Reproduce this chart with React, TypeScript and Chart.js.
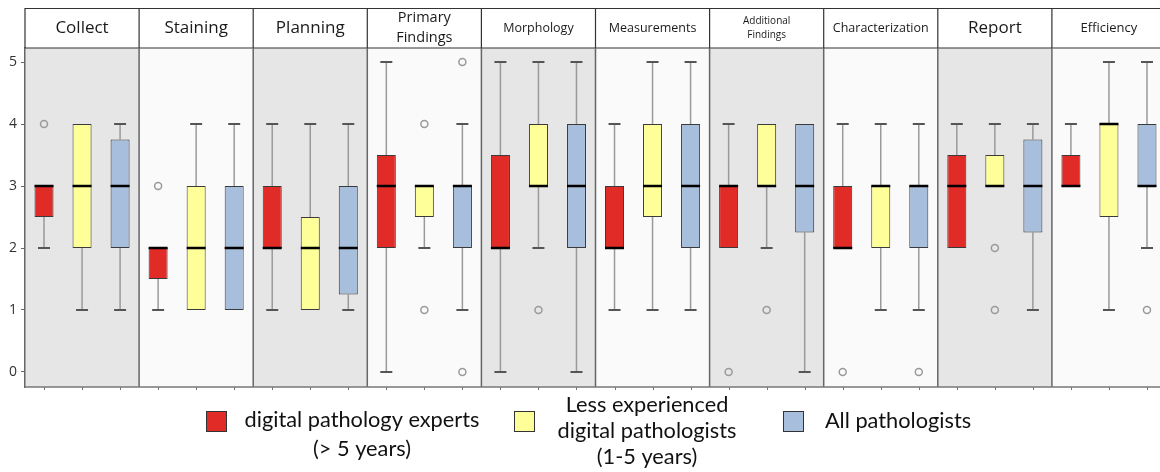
import React, { useEffect, useRef } from "react";
import { Chart, registerables } from "chart.js";

Chart.register(...registerables);

// ---- data ----
const panels = ["Collect", "Staining", "Planning", "Primary Findings", "Morphology", "Measurements", "Additional Findings", "Characterization", "Report", "Efficiency"];

const seriesLabels = [
  ["digital pathology experts", "(> 5 years)"],
  ["Less experienced", "digital pathologists", "(1-5 years)"],
  ["All pathologists"],
];

const expertsLow = [2, 1, 1, 0, 0, 1, 2, 2, 2, 3];
const expertsQ1 = [2.5, 1.5, 2, 2, 2, 2, 2, 2, 2, 3];
const expertsMedian = [3, 2, 2, 3, 2, 2, 3, 2, 3, 3];
const expertsQ3 = [3, 2, 3, 3.5, 3.5, 3, 3, 3, 3.5, 3.5];
const expertsHigh = [3, 2, 4, 5, 5, 4, 4, 4, 4, 4];
const expertsOutliers = [[4], [3], [], [], [], [], [0], [0], [], []];

const lessLow = [1, 1, 1, 2, 2, 1, 2, 1, 3, 1];
const lessQ1 = [2, 1, 1, 2.5, 3, 2.5, 3, 2, 3, 2.5];
const lessMedian = [3, 2, 2, 3, 3, 3, 3, 3, 3, 4];
const lessQ3 = [4, 3, 2.5, 3, 4, 4, 4, 3, 3.5, 4];
const lessHigh = [4, 4, 4, 3, 5, 5, 4, 4, 4, 5];
const lessOutliers = [[], [], [], [4, 1], [1], [], [1], [], [2, 1], []];

const allLow = [1, 1, 1, 1, 0, 1, 0, 1, 1, 2];
const allQ1 = [2, 1, 1.25, 2, 2, 2, 2.25, 2, 2.25, 3];
const allMedian = [3, 2, 2, 3, 3, 3, 3, 3, 3, 3];
const allQ3 = [3.75, 3, 3, 3, 4, 4, 4, 3, 3.75, 4];
const allHigh = [4, 4, 4, 4, 5, 5, 4, 4, 4, 5];
const allOutliers = [[], [], [], [5, 0], [], [], [], [0], [], [1]];

const yTicks = [0, 1, 2, 3, 4, 5];

// ---- styles ----
const colors = ["#e02b27", "#ffff99", "#a7bedc"];
const headerFontSizes = [17, 17, 17, 14.5, 12.5, 12.5, 10, 12.5, 17, 13];
const headerWrap = [false, false, false, true, false, false, true, false, false, false];

const stats = [
  { low: expertsLow, q1: expertsQ1, med: expertsMedian, q3: expertsQ3, high: expertsHigh, out: expertsOutliers },
  { low: lessLow, q1: lessQ1, med: lessMedian, q3: lessQ3, high: lessHigh, out: lessOutliers },
  { low: allLow, q1: allQ1, med: allMedian, q3: allQ3, high: allHigh, out: allOutliers },
];

const NG = 3;
const labels: string[] = [];
panels.forEach((p) => {
  for (let g = 0; g < NG; g++) labels.push(p + "|" + g);
});

const HEADER_TOP = 8;
const CANVAS_W = 1166;

const boxPlugin = {
  id: "boxExtras",
  beforeDraw(chart: any) {
    const { ctx, chartArea: ca, scales } = chart;
    const x = scales.x;
    ctx.save();
    ctx.fillStyle = "#ffffff";
    ctx.fillRect(0, 0, chart.width, chart.height);
    const catW = x.getPixelForValue(1) - x.getPixelForValue(0);
    panels.forEach((_, i) => {
      const l = x.getPixelForValue(i * NG) - catW / 2;
      ctx.fillStyle = i % 2 === 0 ? "#e6e6e6" : "#fafafa";
      ctx.fillRect(l, ca.top, catW * NG, ca.bottom - ca.top);
    });
    ctx.restore();
  },
  beforeDatasetsDraw(chart: any) {
    const { ctx, scales } = chart;
    const { x, y } = scales;
    ctx.save();
    stats.forEach((s, g) => {
      panels.forEach((_, i) => {
        const idx = i * NG + g;
        const cx = x.getPixelForValue(idx);
        const segs: [number, number][] = [];
        if (s.high[i] > s.q3[i]) segs.push([s.q3[i], s.high[i]]);
        if (s.low[i] < s.q1[i]) segs.push([s.q1[i], s.low[i]]);
        segs.forEach(([a, b]) => {
          ctx.strokeStyle = "#9a9a9a";
          ctx.lineWidth = 1.5;
          ctx.beginPath();
          ctx.moveTo(cx, y.getPixelForValue(a));
          ctx.lineTo(cx, y.getPixelForValue(b));
          ctx.stroke();
          ctx.strokeStyle = "#555";
          ctx.lineWidth = 2;
          ctx.beginPath();
          ctx.moveTo(cx - 6, y.getPixelForValue(b));
          ctx.lineTo(cx + 6, y.getPixelForValue(b));
          ctx.stroke();
        });
      });
    });
    ctx.restore();
  },
  afterDatasetsDraw(chart: any) {
    const { ctx, scales } = chart;
    const { x, y } = scales;
    ctx.save();
    stats.forEach((s, g) => {
      const meta = chart.getDatasetMeta(g);
      panels.forEach((_, i) => {
        const idx = i * NG + g;
        const cx = x.getPixelForValue(idx);
        const el = meta.data[idx];
        const w = el && el.width ? el.width : 19;
        ctx.strokeStyle = "#000";
        ctx.lineWidth = 2.5;
        ctx.beginPath();
        const my = y.getPixelForValue(s.med[i]);
        ctx.moveTo(cx - w / 2, my);
        ctx.lineTo(cx + w / 2, my);
        ctx.stroke();
        s.out[i].forEach((v) => {
          ctx.strokeStyle = "#9a9a9a";
          ctx.lineWidth = 1.5;
          ctx.beginPath();
          ctx.arc(cx, y.getPixelForValue(v), 3.5, 0, Math.PI * 2);
          ctx.stroke();
        });
      });
    });
    ctx.restore();
  },
  afterDraw(chart: any) {
    const { ctx, chartArea: ca, scales } = chart;
    const x = scales.x;
    const catW = x.getPixelForValue(1) - x.getPixelForValue(0);
    ctx.save();
    // header
    ctx.fillStyle = "#ffffff";
    ctx.fillRect(ca.left, HEADER_TOP, ca.right - ca.left, ca.top - HEADER_TOP);
    ctx.strokeStyle = "#333";
    ctx.lineWidth = 1.2;
    ctx.beginPath();
    ctx.moveTo(ca.left, HEADER_TOP + 0.5);
    ctx.lineTo(ca.right, HEADER_TOP + 0.5);
    ctx.moveTo(ca.left, ca.top);
    ctx.lineTo(ca.right, ca.top);
    ctx.moveTo(ca.left, HEADER_TOP);
    ctx.lineTo(ca.left, ca.top);
    ctx.stroke();
    const hc = (HEADER_TOP + ca.top) / 2;
    panels.forEach((p, i) => {
      const l = x.getPixelForValue(i * NG) - catW / 2;
      const cx = l + (catW * NG) / 2;
      const fs = headerFontSizes[i];
      ctx.fillStyle = "#1a1a1a";
      ctx.font = `${fs}px "Open Sans"`;
      ctx.textAlign = "center";
      ctx.textBaseline = "middle";
      if (headerWrap[i]) {
        const parts = p.split(" ");
        const gap = fs * 1.38;
        ctx.fillText(parts[0], cx, hc - gap / 2);
        ctx.fillText(parts.slice(1).join(" "), cx, hc + gap / 2);
      } else {
        ctx.fillText(p, cx, hc);
      }
      if (i > 0) {
        ctx.strokeStyle = "#333";
        ctx.lineWidth = 1.2;
        ctx.beginPath();
        ctx.moveTo(l, HEADER_TOP);
        ctx.lineTo(l, ca.top);
        ctx.stroke();
        ctx.strokeStyle = "#666";
        ctx.lineWidth = 1.5;
        ctx.beginPath();
        ctx.moveTo(l, ca.top);
        ctx.lineTo(l, ca.bottom);
        ctx.stroke();
      }
    });
    // x axis
    ctx.strokeStyle = "#777";
    ctx.lineWidth = 1.5;
    ctx.beginPath();
    ctx.moveTo(ca.left, ca.bottom);
    ctx.lineTo(ca.right, ca.bottom);
    ctx.stroke();
    ctx.lineWidth = 1;
    ctx.beginPath();
    labels.forEach((_, k) => {
      const px = Math.round(x.getPixelForValue(k)) + 0.5;
      ctx.moveTo(px, ca.bottom);
      ctx.lineTo(px, ca.bottom + 3);
    });
    ctx.stroke();

    // legend
    const fam = "Lato";
    ctx.font = `20px ${fam}`;
    const m = ctx.measureText(seriesLabels[0][0]).width;
    const fsz = (20 * 235) / m;
    ctx.font = `${fsz}px ${fam}`;
    ctx.fillStyle = "#111";
    ctx.textBaseline = "alphabetic";
    ctx.textAlign = "center";
    const squares = [206, 514, 783];
    const textCenters = [362, 647, 898];
    const baselines = [[427, 456], [412, 438, 464], [428]];
    squares.forEach((sx, g) => {
      ctx.fillStyle = colors[g];
      ctx.fillRect(sx, 411, 20, 20);
      ctx.strokeStyle = "#333";
      ctx.lineWidth = 1;
      ctx.strokeRect(sx + 0.5, 411.5, 20, 20);
      ctx.fillStyle = "#111";
      seriesLabels[g].forEach((line, j) => {
        ctx.fillText(line, textCenters[g], baselines[g][j]);
      });
    });
    ctx.restore();
  },
};

export default function App() {
  const ref = useRef<HTMLCanvasElement | null>(null);
  useEffect(() => {
    document.body.style.margin = "0";
    const canvas = ref.current;
    if (!canvas) return;
    const datasets = stats.map((s, g) => ({
      label: seriesLabels[g].join(" "),
      data: labels.map((_, k) => {
        const i = Math.floor(k / NG);
        return k % NG === g ? [s.q1[i], s.q3[i]] : null;
      }),
      backgroundColor: colors[g],
      borderColor: "#3a3a3a",
      borderWidth: 1,
      borderSkipped: false,
      barPercentage: 0.5,
      categoryPercentage: 1,
      grouped: false,
    }));
    const chart = new Chart(canvas, {
      type: "bar",
      data: { labels, datasets: datasets as any },
      options: {
        animation: false,
        responsive: false,
        devicePixelRatio: 1,
        layout: { padding: { top: 48, bottom: 85, left: 0, right: 0 } },
        plugins: { legend: { display: false }, tooltip: { enabled: false } },
        scales: {
          x: { display: false, offset: true },
          y: {
            min: -0.242,
            max: 5.226,
            afterFit: (scale: any) => {
              scale.width = 25;
            },
            afterBuildTicks: (scale: any) => {
              scale.ticks = yTicks.map((v) => ({ value: v }));
            },
            ticks: {
              stepSize: 1,
              includeBounds: false,
              color: "#333",
              padding: 4,
              font: { size: 14, family: "Open Sans" },
            },
            grid: { drawOnChartArea: false, drawTicks: true, tickLength: 4, color: "#666" },
            border: { display: true, color: "#666", width: 1.5 },
          },
        },
      },
      plugins: [boxPlugin],
    });
    return () => chart.destroy();
  }, []);
  return (
    <div style={{ width: 1160, height: 472, overflow: "hidden" }}>
      <canvas ref={ref} width={CANVAS_W} height={472} style={{ display: "block" }} />
    </div>
  );
}
